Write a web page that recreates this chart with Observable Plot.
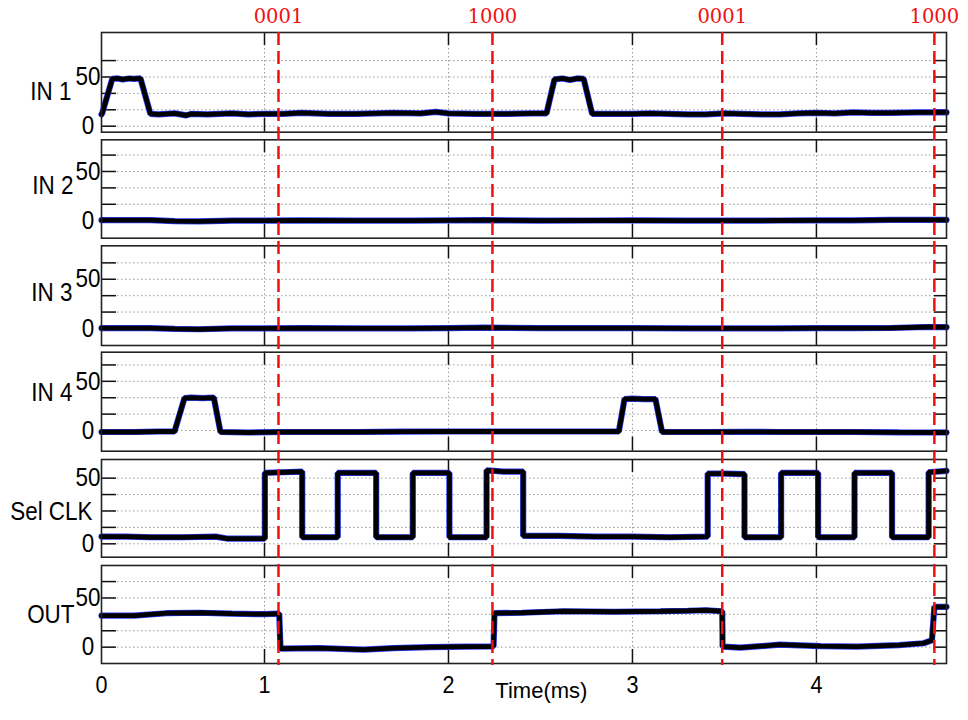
<!DOCTYPE html>
<html><head><meta charset="utf-8">
<script src="https://cdn.jsdelivr.net/npm/d3@7"></script>
<script src="https://cdn.jsdelivr.net/npm/@observablehq/plot@0.6"></script>
<style>
body{margin:0;background:#fff;}
#chart{position:relative;width:968px;height:720px;overflow:hidden;background:#fff;}
#chart svg{position:absolute;left:0;top:0;}
</style></head><body><div id="chart"></div>
<script>
// ---------- data ----------
const timeBreaks = [0, 1, 4.707];          // ms (axis of the reference is piecewise)
const xTicks = [0, 1, 2, 3, 4];
const xGrid = [1, 2, 3, 4];
const channels = ["IN 1", "IN 2", "IN 3", "IN 4", "Sel CLK", "OUT"];
const gridA = [0, 50/3, 100/3, 50, 200/3];
const gridB = [0, 12.5, 25, 37.5, 50];
const labelTicks = [0, 50];
const markerTimes = [1.076, 2.239, 3.488, 4.641];
const markerLabels = ["0001", "1000", "0001", "1000"];
const axisTitle = "Time(ms)";

const in1 = [[0,12],[0.004,13],[0.066,48],[0.1,48.5],[0.13,47.5],[0.17,48.5],[0.2,48],[0.239,48.5],[0.30,12.5],[0.35,12],[0.45,13],
  [0.52,11],[0.55,12.5],[0.65,12],[0.8,13],[0.9,12],[1.0,12.5],[1.1,12.5],[1.2,13.5],[1.35,12.5],[1.5,12.5],[1.6,13],[1.7,13.5],[1.85,13],[1.93,14.5],[2.0,13],[2.15,12.5],[2.3,12.5],
  [2.45,13],[2.533,13],[2.576,47.5],[2.62,48.5],[2.66,47],[2.70,48.5],[2.735,48],[2.781,12.5],[2.9,12.5],[3.0,12.5],[3.1,13],[3.2,12.5],[3.3,12],[3.4,12],
  [3.5,13],[3.6,12.5],[3.7,12],[3.8,12],[3.9,13],[4.0,13.5],[4.1,13],[4.2,14],[4.3,13.5],[4.4,13.5],[4.55,14],[4.707,14]];
const in2 = [[0,0.5],[0.15,0.5],[0.3,0.5],[0.45,-0.5],[0.6,-0.8],[0.8,0],[1.0,0],[1.2,0.3],[1.5,0],[1.8,0],[2.0,0.3],[2.2,0.5],[2.5,0],[2.8,0.2],[3.0,0.3],
  [3.3,0],[3.5,0],[3.8,0.2],[4.0,0.3],[4.2,0.3],[4.4,0.8],[4.707,0.8]];
const in3 = [[0,0.3],[0.15,0.3],[0.3,0.3],[0.45,-0.5],[0.6,-0.8],[0.8,0],[1.0,0],[1.2,0.3],[1.5,0],[1.8,0],[2.0,0.4],[2.2,0.8],[2.5,0.3],[2.8,0.3],[3.0,0.3],
  [3.3,0],[3.5,0],[3.8,0.2],[4.0,0.3],[4.2,0.3],[4.4,0.5],[4.6,1.5],[4.707,1.3]];
const in4 = [[0,-1.5],[0.1,-1.5],[0.2,-1.5],[0.35,-1],[0.448,-1],[0.509,33],[0.55,33.5],[0.62,33],[0.689,33.5],[0.730,-1.5],
  [0.9,-2],[1.1,-1.5],[1.3,-1.5],[1.5,-1.5],[1.75,-1.2],[2.0,-1],[2.25,-1],[2.5,-1],[2.75,-1],[2.926,-1],[2.957,32],[3.0,32.5],[3.06,32],[3.125,32],
  [3.161,-1.5],[3.4,-1.5],[3.6,-1.3],[3.8,-1.5],[4.0,-1.5],[4.2,-1.5],[4.45,-1.8],[4.707,-2]];
const selClk = [[0,5.5],[0.15,5.5],[0.3,5],[0.5,5],[0.7,5.5],[0.77,4],[0.95,4],[1.002,4],[1.002,54],[1.1,54.5],[1.205,55],
  [1.205,5],[1.398,5],[1.398,54],[1.607,54],[1.607,5],[1.806,5],[1.806,54],[2.005,54],[2.005,5],[2.207,5],
  [2.207,56],[2.3,55],[2.406,55],[2.406,6],[2.6,6],[2.8,5.5],[3.0,5.5],[3.2,5],[3.409,5.5],[3.409,53.5],
  [3.5,53.5],[3.609,53],[3.609,5],[3.808,5],[3.808,54],[4.009,54],[4.009,5],[4.207,5],[4.207,54],[4.411,54],
  [4.411,5],[4.610,5],[4.610,54.5],[4.707,55.5]];
const out = [[0,32],[0.2,32],[0.4,34.5],[0.6,35],[0.8,34],[1.0,33.5],[1.08,34],[1.087,-1.5],[1.3,-1],[1.54,-2.5],
  [1.7,-1],[1.9,0],[2.1,0.5],[2.245,0.7],[2.25,34.5],[2.4,35],[2.625,36.5],[2.9,36],[3.152,36.5],[3.3,37],
  [3.40,37.5],[3.488,36.5],[3.49,0.5],[3.587,-0.5],[3.8,2.5],[4.022,1],[4.221,0.5],[4.45,2],[4.583,4],
  [4.628,7],[4.641,41],[4.707,41]];
const series = [in1, in2, in3, in4, selClk, out];

// ---------- layout ----------
const W = 968, H = 720, ML = 101, MR = 22;
const xRange = [101, 264, 946];
const panels = [
  {top: 32,    bottom: 131.7, domain: [-6.1, 95.2],  grid: gridA, labelY: 35.3, labelDx: -30},
  {top: 139.3, bottom: 237.7, domain: [-17.8, 82.2], grid: gridA, labelY: 35.8, labelDx: -28},
  {top: 245.3, bottom: 345,   domain: [-17.3, 84.0], grid: gridA, labelY: 36.1, labelDx: -29},
  {top: 351.7, bottom: 450.7, domain: [-21.0, 79.6], grid: gridA, labelY: 38.6, labelDx: -29},
  {top: 459,   bottom: 556.7, domain: [-10.2, 64.2], grid: gridB, labelY: 24.6, labelDx: -9},
  {top: 565,   bottom: 663,   domain: [-16.6, 83.0], grid: gridA, labelY: 33.2, labelDx: -27}
];
const FONT = "Liberation Sans, Arial, sans-serif";
const root = document.getElementById("chart");
const xScale = {type: "linear", domain: timeBreaks, range: xRange, axis: null};

function squish(svg, f) {
  svg.querySelectorAll("text").forEach(t => {
    const L = t.getComputedTextLength();
    if (L > 0) {
      t.setAttribute("textLength", (L * f).toFixed(2));
      t.setAttribute("lengthAdjust", "spacingAndGlyphs");
    }
  });
}

panels.forEach((p, i) => {
  const fw = W - ML - MR, fh = p.bottom - p.top;
  const marks = [
    Plot.ruleY(p.grid, {stroke: "#9a9a9a", strokeWidth: 1, strokeDasharray: "1.5,2.5"}),
    Plot.ruleX(xGrid, {stroke: "#9a9a9a", strokeWidth: 1, strokeDasharray: "1.5,2.5"}),
    Plot.ruleY(p.grid, {stroke: "#111", strokeWidth: 1.5, insetRight: fw - 15}),
    Plot.ruleY(p.grid, {stroke: "#111", strokeWidth: 1.5, insetLeft: fw - 12}),
    Plot.ruleX(xGrid, {stroke: "#111", strokeWidth: 1.5, insetBottom: fh - 13}),
    Plot.ruleX(xGrid, {stroke: "#111", strokeWidth: 1.5, insetTop: fh - 14}),
    Plot.line(series[i], {x: d => d[0], y: d => d[1], stroke: "#2a3cff", strokeWidth: 6.2, strokeLinejoin: "miter"}),
    Plot.line(series[i], {x: d => d[0], y: d => d[1], stroke: "#000", strokeWidth: 4.8, strokeLinejoin: "miter"}),
    Plot.frame({stroke: "#222", strokeWidth: 1.6}),
    Plot.text(labelTicks, {y: d => d, text: d => String(d), frameAnchor: "left", dx: -13.5,
      textAnchor: "middle", lineAnchor: "middle", fontSize: 25.5, fill: "#000"}),
    Plot.text([channels[i]], {y: () => p.labelY, text: d => d, frameAnchor: "left", dx: p.labelDx,
      textAnchor: "end", lineAnchor: "middle", fontSize: 25.5, fill: "#000"})
  ];
  if (i === panels.length - 1) {
    marks.push(Plot.text(xTicks, {x: d => d, text: d => String(d), frameAnchor: "bottom", dy: 21.4,
      textAnchor: "middle", lineAnchor: "middle", fontSize: 24.5, fill: "#000"}));
  }
  const svg = Plot.plot({
    width: W, height: H,
    marginLeft: ML, marginRight: MR, marginTop: p.top, marginBottom: H - p.bottom,
    x: xScale,
    y: {domain: p.domain, axis: null},
    style: {background: "transparent", overflow: "visible", fontFamily: FONT},
    marks
  });
  root.appendChild(svg);
  squish(svg, 0.88);
});

// overlay: marker lines, labels and axis title
const overlay = Plot.plot({
  width: W, height: H,
  marginLeft: ML, marginRight: MR, marginTop: 32, marginBottom: H - 665,
  x: xScale,
  y: {domain: [0, 1], axis: null},
  style: {background: "transparent", overflow: "visible", fontFamily: FONT},
  marks: [
    Plot.ruleX(markerTimes, {stroke: "#f01010", strokeWidth: 2.5, strokeDasharray: "13,6"}),
    Plot.text(markerTimes, {x: d => d, text: (d, i) => markerLabels[i], frameAnchor: "top", dy: -15.7,
      lineAnchor: "middle", textAnchor: "middle", fill: "#f01010", fontSize: 19.5, fontFamily: "DejaVu Serif"}),
    Plot.text([axisTitle], {x: () => 2.505, text: d => d, frameAnchor: "bottom", dy: 25.3,
      lineAnchor: "middle", textAnchor: "middle", fill: "#000", fontSize: 22})
  ]
});
root.appendChild(overlay);
</script></body></html>
